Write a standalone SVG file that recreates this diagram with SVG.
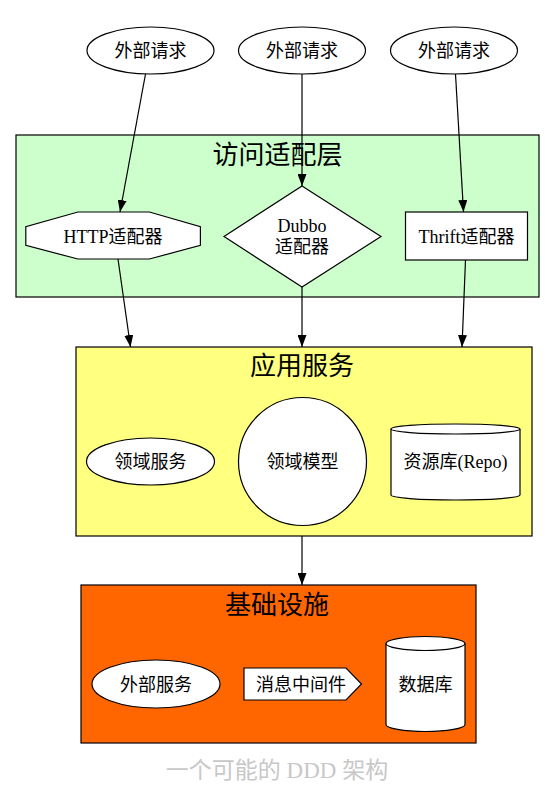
<svg xmlns="http://www.w3.org/2000/svg" width="555" height="796" viewBox="0 0 555 796">
<defs>
<marker id="arr" viewBox="0 0 12 9" refX="12" refY="4.5" markerWidth="12" markerHeight="9" markerUnits="userSpaceOnUse" orient="auto">
<path d="M0,0 L12,4.5 L0,9 Z" fill="#000"/>
</marker>
<style>
text{font-family:"Liberation Serif","Noto Sans CJK SC",serif;fill:#000;text-anchor:middle}
.n{font-size:18px}
.t{font-size:26px}
.cap{font-size:23px;fill:#c8c8c8}
.s{fill:#fff;stroke:#000;stroke-width:1.2}
.c{stroke:#000;stroke-width:1.2}
.e{fill:none;stroke:#000;stroke-width:1.2;marker-end:url(#arr)}
</style>
</defs>
<rect width="555" height="796" fill="#fff"/>
<g id="cluster_access">
<rect class="c" x="16" y="135" width="523" height="162" fill="#ccffcc"/>
<text class="t" x="277.5" y="164">访问适配层</text>
</g>
<g id="cluster_app">
<rect class="c" x="76" y="347" width="456" height="189" fill="#ffff80"/>
<text class="t" x="302" y="375">应用服务</text>
</g>
<g id="cluster_infra">
<rect class="c" x="81" y="585" width="395" height="158" fill="#ff6600"/>
<text class="t" x="277" y="614">基础设施</text>
</g>
<g id="req1">
<ellipse class="s" cx="150.5" cy="50.5" rx="63.5" ry="23.5"/>
<text class="n" x="150.5" y="57">外部请求</text>
</g>
<g id="req2">
<ellipse class="s" cx="302" cy="50.5" rx="63.5" ry="23.5"/>
<text class="n" x="302" y="57">外部请求</text>
</g>
<g id="req3">
<ellipse class="s" cx="454" cy="50.5" rx="63.5" ry="23.5"/>
<text class="n" x="454" y="57">外部请求</text>
</g>
<g id="http">
<polygon class="s" points="200.4,226.6 200.4,245.4 149.4,259 77.9,259 25.8,245.4 25.8,226.6 77.9,212 149.4,212"/>
<text class="n" x="113" y="242.5">HTTP适配器</text>
</g>
<g id="dubbo">
<polygon class="s" points="302,186 381,236.5 302,287 224,236.5"/>
<text class="n" x="302" y="232">Dubbo</text>
<text class="n" x="302" y="253">适配器</text>
</g>
<g id="thrift">
<rect class="s" x="405.5" y="212" width="122" height="48"/>
<text class="n" x="466.5" y="242.5">Thrift适配器</text>
</g>
<g id="domain_service">
<ellipse class="s" cx="150.5" cy="461.5" rx="64" ry="23.5"/>
<text class="n" x="150.5" y="468">领域服务</text>
</g>
<g id="domain_model">
<circle class="s" cx="302.5" cy="461.5" r="64"/>
<text class="n" x="302.5" y="468">领域模型</text>
</g>
<g id="repo">
<path class="s" d="M391,429 A64.5,5 0 0 1 520,429 L520,495 A64.5,5 0 0 1 391,495 Z"/>
<path fill="none" stroke="#000" stroke-width="1.2" d="M391,429 A64.5,5 0 0 0 520,429"/>
<text class="n" x="455.5" y="468">资源库(Repo)</text>
</g>
<g id="ext_service">
<ellipse class="s" cx="156" cy="684" rx="64" ry="24"/>
<text class="n" x="156" y="690.5">外部服务</text>
</g>
<g id="mq">
<polygon class="s" points="244,668 346,668 361.5,684 346,700 244,700"/>
<text class="n" x="301" y="690.5">消息中间件</text>
</g>
<g id="db">
<path class="s" d="M386,643.5 A39.5,7 0 0 1 465,643.5 L465,724.5 A39.5,7 0 0 1 386,724.5 Z"/>
<path fill="none" stroke="#000" stroke-width="1.2" d="M386,643.5 A39.5,7 0 0 0 465,643.5"/>
<text class="n" x="425.5" y="690.5">数据库</text>
</g>
<g id="edges">
<line class="e" x1="145.5" y1="74" x2="120" y2="212"/>
<line class="e" x1="302" y1="74" x2="302" y2="186"/>
<line class="e" x1="455.5" y1="74" x2="463.5" y2="212"/>
<line class="e" x1="118" y1="259" x2="130.5" y2="347"/>
<line class="e" x1="302" y1="287" x2="302" y2="347"/>
<line class="e" x1="465.5" y1="260" x2="462" y2="347"/>
<line class="e" x1="302" y1="536" x2="302" y2="585"/>
</g>
<text class="cap" x="277" y="778">一个可能的 DDD 架构</text>
</svg>
